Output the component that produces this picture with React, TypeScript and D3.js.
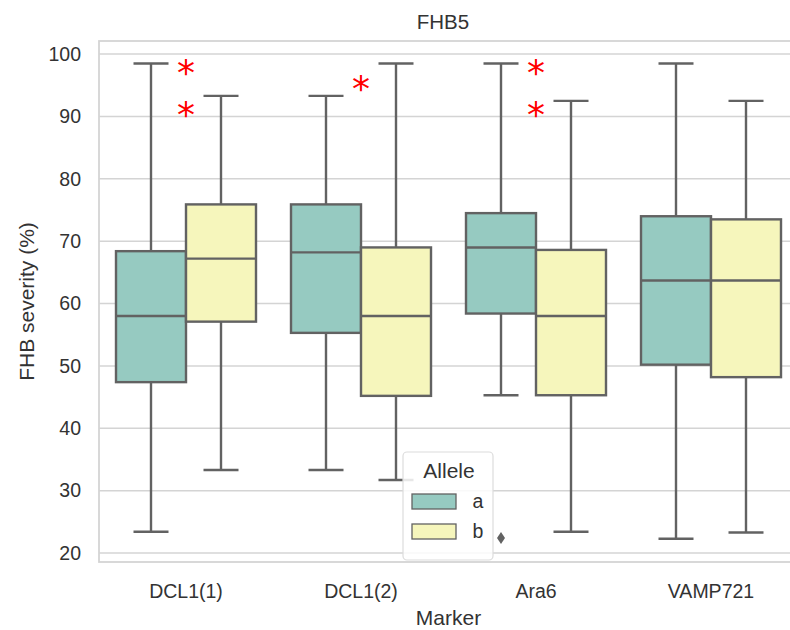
import React from "react";
import * as d3 from "d3";

const markers = ["DCL1(1)", "DCL1(2)", "Ara6", "VAMP721"];
const alleles = ["a", "b"];
const colors = ["#96cac1", "#f6f6bc"];

// allele a
const aLow = [23.4, 33.3, 45.3, 22.3];
const aQ1 = [47.4, 55.3, 58.4, 50.2];
const aMed = [58.0, 68.2, 69.0, 63.7];
const aQ3 = [68.4, 75.9, 74.5, 74.0];
const aHigh = [98.5, 93.3, 98.5, 98.5];
// allele b
const bLow = [33.3, 31.7, 23.4, 23.3];
const bQ1 = [57.1, 45.2, 45.3, 48.2];
const bMed = [67.2, 58.0, 58.0, 63.7];
const bQ3 = [75.9, 69.0, 68.6, 73.5];
const bHigh = [93.3, 98.5, 92.5, 92.5];

const outlierMarkers = ["Ara6"];
const outlierAlleles = ["a"];
const outlierValues = [22.4];

const starMarkers = ["DCL1(1)", "DCL1(1)", "DCL1(2)", "Ara6", "Ara6"];
const starValues = [98.0, 91.2, 95.3, 98.0, 91.2];

const yTicks = [20, 30, 40, 50, 60, 70, 80, 90, 100];

const W = 790;
const H = 630;
const left = 99;
const top = 41;
const bottom = 562;
const right = 798.5;

const FONT = "'Liberation Sans', Arial, sans-serif";
const LINE = "#626262";
const GRID = "#d4d4d4";

export default function App() {
  const x = d3.scaleBand<string>().domain(markers).range([right - 4 * 175, right]).paddingInner(0).paddingOuter(0);
  const hue = d3.scaleBand<string>().domain(alleles).range([-70, 70]);
  const y = d3.scaleLinear().domain([18.56, 102.1]).range([bottom, top]);

  const series = [
    { low: aLow, q1: aQ1, med: aMed, q3: aQ3, high: aHigh },
    { low: bLow, q1: bQ1, med: bMed, q3: bQ3, high: bHigh },
  ];
  const bw = hue.bandwidth();

  return (
    <svg width={W} height={H} style={{ position: "absolute", left: 0, top: 0, background: "#fff" }}>
      {/* grid */}
      {yTicks.map((t) => (
        <line key={t} x1={left} x2={right} y1={y(t)} y2={y(t)} stroke={GRID} strokeWidth={1.5} />
      ))}
      {/* frame */}
      <rect x={left} y={top} width={right - left} height={bottom - top} fill="none" stroke={GRID} strokeWidth={1.8} />

      {/* boxes */}
      {series.map((s, si) =>
        markers.map((m, i) => {
          const cx = (x(m) as number) + x.bandwidth() / 2 + (hue(alleles[si]) as number) + bw / 2;
          const x0 = cx - bw / 2;
          return (
            <g key={m + si}>
              <line x1={cx} x2={cx} y1={y(s.high[i])} y2={y(s.q3[i])} stroke={LINE} strokeWidth={2.4} />
              <line x1={cx} x2={cx} y1={y(s.q1[i])} y2={y(s.low[i])} stroke={LINE} strokeWidth={2.4} />
              <line x1={cx - bw / 4} x2={cx + bw / 4} y1={y(s.high[i])} y2={y(s.high[i])} stroke={LINE} strokeWidth={2.4} />
              <line x1={cx - bw / 4} x2={cx + bw / 4} y1={y(s.low[i])} y2={y(s.low[i])} stroke={LINE} strokeWidth={2.4} />
              <rect x={x0} y={y(s.q3[i])} width={bw} height={y(s.q1[i]) - y(s.q3[i])} fill={colors[si]} stroke={LINE} strokeWidth={2.4} />
              <line x1={x0} x2={x0 + bw} y1={y(s.med[i])} y2={y(s.med[i])} stroke={LINE} strokeWidth={2.4} />
            </g>
          );
        })
      )}

      {/* outliers */}
      {outlierValues.map((v, i) => {
        const cx = (x(outlierMarkers[i]) as number) + x.bandwidth() / 2 + (hue(outlierAlleles[i]) as number) + bw / 2;
        const cy = y(v);
        return <path key={i} d={`M${cx},${cy - 6}L${cx + 4},${cy}L${cx},${cy + 6}L${cx - 4},${cy}Z`} fill={LINE} />;
      })}

      {/* asterisks */}
      {starValues.map((v, i) => (
        <text key={i} x={(x(starMarkers[i]) as number) + x.bandwidth() / 2} y={y(v) + 18} textAnchor="middle" fill="#ff0000" fontSize={36} fontFamily="'DejaVu Sans', sans-serif">
          *
        </text>
      ))}

      {/* y ticks */}
      {yTicks.map((t) => (
        <text key={t} x={81} y={y(t)} dy="0.35em" textAnchor="end" fontSize={19.5} fontFamily={FONT} fill="#333">
          {t}
        </text>
      ))}
      {/* x ticks */}
      {markers.map((m) => (
        <text key={m} x={(x(m) as number) + x.bandwidth() / 2} y={598} textAnchor="middle" fontSize={19.5} fontFamily={FONT} fill="#333">
          {m}
        </text>
      ))}
      <text x={448.5} y={625} textAnchor="middle" fontSize={21} fontFamily={FONT} fill="#333">Marker</text>
      <text transform={`translate(34,${(top + bottom) / 2}) rotate(-90)`} textAnchor="middle" fontSize={21} fontFamily={FONT} fill="#333">
        FHB severity (%)
      </text>
      <text x={443} y={29} textAnchor="middle" fontSize={20.5} fontFamily={FONT} fill="#333">FHB5</text>

      {/* legend */}
      <g>
        <rect x={403} y={452} width={90} height={108} rx={4} fill="#ffffff" fillOpacity={0.85} stroke="#dcdcdc" strokeWidth={1.2} />
        <text x={449} y={478} textAnchor="middle" fontSize={21} fontFamily={FONT} fill="#333">Allele</text>
        {alleles.map((a, i) => (
          <g key={a}>
            <rect x={412} y={494 + i * 30} width={44} height={15} fill={colors[i]} stroke={LINE} strokeWidth={1.3} />
            <text x={478} y={508 + i * 30} textAnchor="middle" fontSize={19.5} fontFamily={FONT} fill="#333">{a}</text>
          </g>
        ))}
      </g>
    </svg>
  );
}
